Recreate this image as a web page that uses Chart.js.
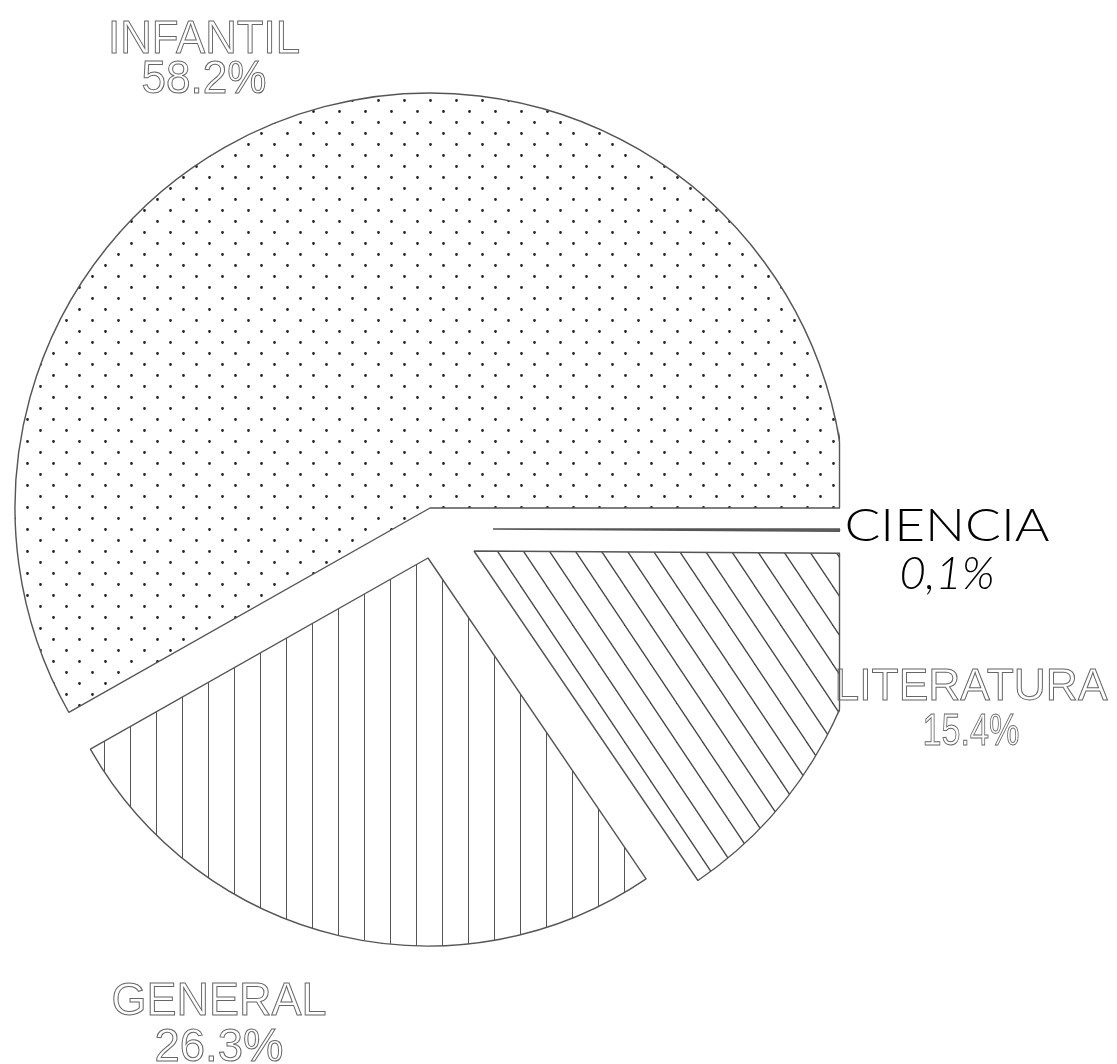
<!DOCTYPE html>
<html>
<head>
<meta charset="utf-8">
<script src="https://cdn.jsdelivr.net/npm/chart.js@4.4.1/dist/chart.umd.min.js"></script>
<style>
  html, body { margin: 0; padding: 0; background: #fff; }
  #marco { width: 1117px; height: 1064px; position: relative; }
</style>
</head>
<body>
<div id="marco"><canvas id="grafico"></canvas></div>
<script>
// sectores en orden de dibujo (sentido horario desde las 3)
const categorias = ['CIENCIA', 'LITERATURA', 'GENERAL', 'INFANTIL'];
const porcentajes = [0.1, 15.4, 26.3, 58.2];
const textosPct = ['0,1%', '15.4%', '26.3%', '58.2%'];

// separación de cada sector (desplazamiento y radio relativo)
const despiece = [
  { dx: 63, dy: 21, r: 1 },
  { dx: 44, dy: 43, r: 0.96 },
  { dx: -2, dy: 50, r: 0.935 },
  { dx: 0, dy: 0, r: 1 }
];

// colocación de los rótulos: centro x, línea base y ancho de cada renglón
const rotulosPos = [
  { x: 947, y1: 541, w1: 205, y2: 589, w2: 95, alto: 33, tipo: 'tinta' },
  { x: 971, y1: 700, w1: 273, y2: 745, w2: 97, alto: 32, tipo: 'hueco' },
  { x: 219, y1: 1015, w1: 215, y2: 1061, w2: 129, alto: 33, tipo: 'hueco' },
  { x: 204, y1: 53, w1: 192, y2: 93, w2: 125, alto: 33, tipo: 'hueco' }
];

function tramaPuntos() {
  const c = document.createElement('canvas');
  c.width = 26; c.height = 22;
  const g = c.getContext('2d');
  g.fillStyle = '#fff';
  g.fillRect(0, 0, 26, 22);
  g.fillStyle = '#222';
  g.beginPath();
  g.arc(1.5, 1.5, 1.4, 0, Math.PI * 2);
  g.arc(14.5, 12.5, 1.4, 0, Math.PI * 2);
  g.fill();
  return g.createPattern(c, 'repeat');
}

function tramaVertical() {
  const c = document.createElement('canvas');
  c.width = 26; c.height = 4;
  const g = c.getContext('2d');
  g.fillStyle = '#fff';
  g.fillRect(0, 0, 26, 4);
  g.fillStyle = '#555';
  g.fillRect(0, 0, 1, 4);
  return g.createPattern(c, 'repeat');
}

function tramaDiagonal() {
  const c = document.createElement('canvas');
  c.width = 26; c.height = 39;
  const g = c.getContext('2d');
  g.fillStyle = '#fff';
  g.fillRect(0, 0, 26, 39);
  g.strokeStyle = '#444';
  g.lineWidth = 1.3;
  [-26, 0, 26].forEach(d => {
    g.beginPath();
    g.moveTo(d - 2, -3);
    g.lineTo(d + 28, 42);
    g.stroke();
  });
  return g.createPattern(c, 'repeat');
}

const separar = {
  id: 'separar',
  beforeDatasetDraw(chart, args) {
    args.meta.data.forEach((arco, i) => {
      arco.x += despiece[i].dx;
      arco.y += despiece[i].dy;
      arco._rOrig = arco.outerRadius;
      arco.outerRadius = arco.outerRadius * despiece[i].r;
    });
  },
  afterDatasetDraw(chart, args) {
    const ctx = chart.ctx;
    // borde recto donde el trazador corta los sectores por la derecha
    const corte = chart.chartArea.right - 5;
    args.meta.data.forEach(arco => {
      ctx.save();
      ctx.beginPath();
      ctx.moveTo(arco.x, arco.y);
      ctx.arc(arco.x, arco.y, arco.outerRadius + 1, arco.startAngle, arco.endAngle);
      ctx.closePath();
      ctx.clip();
      ctx.strokeStyle = '#555';
      ctx.lineWidth = 1.4;
      ctx.beginPath();
      ctx.moveTo(corte - 0.5, 0);
      ctx.lineTo(corte - 0.5, chart.height);
      ctx.stroke();
      ctx.restore();
    });
    args.meta.data.forEach((arco, i) => {
      arco.x -= despiece[i].dx;
      arco.y -= despiece[i].dy;
      arco.outerRadius = arco._rOrig;
    });
  }
};

function escribir(ctx, texto, x, y, ancho, alto, tipo, cursiva) {
  const tam = alto / 0.716;
  ctx.save();
  if (tipo === 'tinta') {
    ctx.font = (cursiva ? 'italic ' : '') + '300 ' + tam + 'px Lato, "Liberation Sans", sans-serif';
  } else {
    ctx.font = '400 ' + tam + 'px "Liberation Sans", Arial, sans-serif';
  }
  const natural = ctx.measureText(texto).width;
  ctx.translate(x, y);
  ctx.scale(ancho / natural, 1);
  ctx.textAlign = 'center';
  ctx.textBaseline = 'alphabetic';
  if (tipo === 'tinta') {
    ctx.fillStyle = '#000';
    ctx.fillText(texto, 0, 0);
  } else {
    ctx.strokeStyle = '#666';
    ctx.lineWidth = 1;
    ctx.strokeText(texto, 0, 0);
  }
  ctx.restore();
}

const rotulos = {
  id: 'rotulos',
  afterDraw(chart) {
    const ctx = chart.ctx;
    categorias.forEach((cat, i) => {
      const p = rotulosPos[i];
      escribir(ctx, cat, p.x, p.y1, p.w1, p.alto, p.tipo, false);
      escribir(ctx, textosPct[i], p.x, p.y2, p.w2, p.alto, p.tipo, p.tipo === 'tinta');
    });
  }
};

const grafico = new Chart(document.getElementById('grafico'), {
  type: 'pie',
  data: {
    labels: categorias,
    datasets: [{
      data: porcentajes,
      backgroundColor: ['#6a6a6a', tramaDiagonal(), tramaVertical(), tramaPuntos()],
      borderColor: '#555',
      borderWidth: 1.4,
      clip: { left: false, top: false, right: -5, bottom: false }
    }]
  },
  options: {
    responsive: true,
    maintainAspectRatio: false,
    animation: false,
    rotation: 90,
    radius: 415,
    layout: { padding: { left: 15, right: 272, top: 93, bottom: 141 } },
    plugins: {
      legend: { display: false },
      tooltip: { enabled: false }
    }
  },
  plugins: [separar, rotulos]
});
</script>
</body>
</html>
